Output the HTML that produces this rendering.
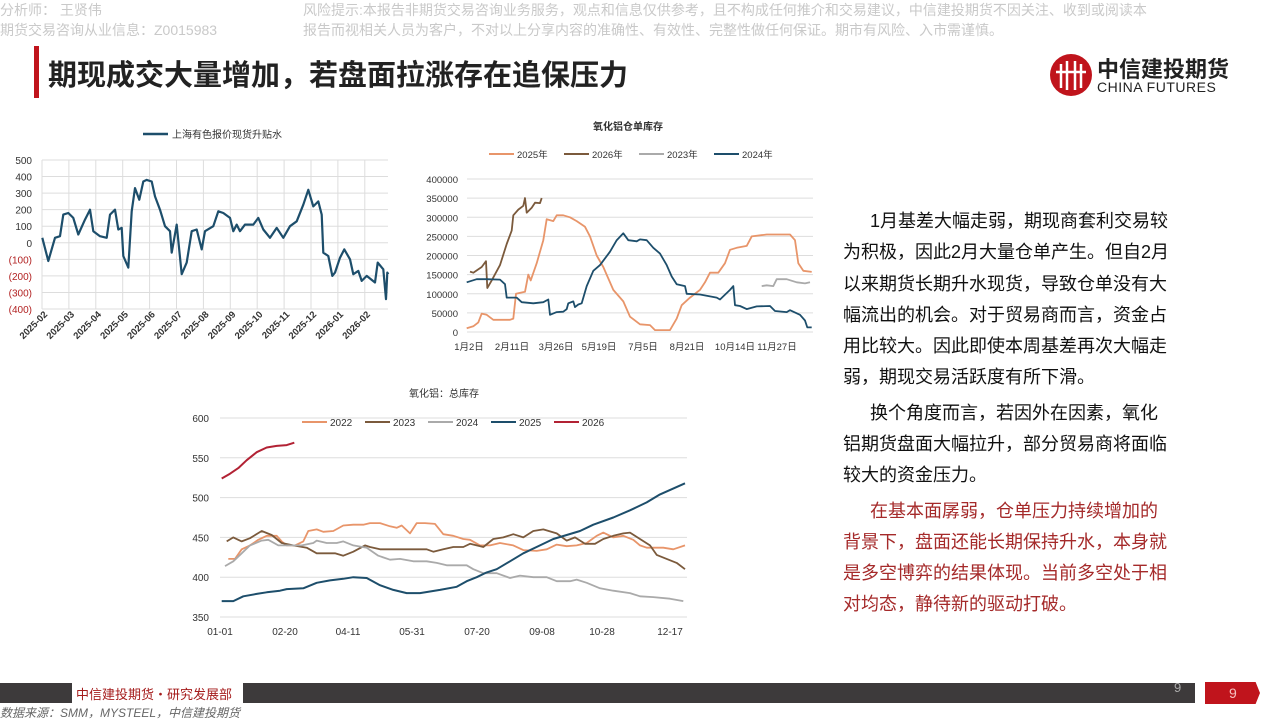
<!DOCTYPE html>
<html><head><meta charset="utf-8"><style>
body{margin:0;width:1280px;height:720px;position:relative;background:#fff;overflow:hidden;font-family:"Liberation Sans","Noto Sans CJK SC",sans-serif}
.a{position:absolute;white-space:nowrap}
.hd{color:#c9c9c9;font-size:14px}
.tx{font-size:18px;color:#111;left:843px}
.rd{color:#a52a2a}
</style></head><body>
<div class="a hd" style="left:0;top:0">分析师：&nbsp;王贤伟</div>
<div class="a hd" style="left:0;top:20px">期货交易咨询从业信息：Z0015983</div>
<div class="a hd" style="left:303px;top:0">风险提示:本报告非期货交易咨询业务服务，观点和信息仅供参考，且不构成任何推介和交易建议，中信建投期货不因关注、收到或阅读本</div>
<div class="a hd" style="left:303px;top:20px">报告而视相关人员为客户，不对以上分享内容的准确性、有效性、完整性做任何保证。期市有风险、入市需谨慎。</div>
<div class="a" style="left:34px;top:46px;width:5px;height:52px;background:#c0141c"></div>
<div class="a" style="left:48px;top:52px;font-size:29px;font-weight:bold;color:#222">期现成交大量增加，若盘面拉涨存在追保压力</div>
<svg class="a" style="left:1048px;top:52px" width="46" height="46"><circle cx="23" cy="23" r="21" fill="#c0141c"/><g stroke="#fff" stroke-width="2.5" fill="none"><line x1="13" y1="12" x2="13" y2="36"/><line x1="19" y1="9" x2="19" y2="38"/><line x1="27" y1="9" x2="27" y2="38"/><line x1="33" y1="12" x2="33" y2="36"/><line x1="8" y1="20" x2="38" y2="20"/></g></svg>
<div class="a" style="left:1097px;top:52px;font-size:22px;font-weight:bold;color:#222">中信建投期货</div>
<div class="a" style="left:1097px;top:79px;font-size:14px;color:#222;letter-spacing:0.5px">CHINA FUTURES</div>

<svg class="a" style="left:0;top:120px" width="400" height="240" id="c1" font-family="Liberation Sans,Noto Sans CJK SC,sans-serif"></svg>
<svg class="a" style="left:400px;top:110px" width="430" height="250" id="c2" font-family="Liberation Sans,Noto Sans CJK SC,sans-serif"></svg>
<svg class="a" style="left:180px;top:385px" width="530" height="260" id="c3" font-family="Liberation Sans,Noto Sans CJK SC,sans-serif"></svg>

<div class="a tx" style="top:207px">&emsp;&ensp;1月基差大幅走弱，期现商套利交易较</div>
<div class="a tx" style="top:238px">为积极，因此2月大量仓单产生。但自2月</div>
<div class="a tx" style="top:270px">以来期货长期升水现货，导致仓单没有大</div>
<div class="a tx" style="top:301px">幅流出的机会。对于贸易商而言，资金占</div>
<div class="a tx" style="top:332px">用比较大。因此即使本周基差再次大幅走</div>
<div class="a tx" style="top:363px">弱，期现交易活跃度有所下滑。</div>
<div class="a tx" style="top:399px">&emsp;&ensp;换个角度而言，若因外在因素，氧化</div>
<div class="a tx" style="top:430px">铝期货盘面大幅拉升，部分贸易商将面临</div>
<div class="a tx" style="top:461px">较大的资金压力。</div>
<div class="a tx rd" style="top:497px">&emsp;&ensp;在基本面孱弱，仓单压力持续增加的</div>
<div class="a tx rd" style="top:528px">背景下，盘面还能长期保持升水，本身就</div>
<div class="a tx rd" style="top:559px">是多空博弈的结果体现。当前多空处于相</div>
<div class="a tx rd" style="top:590px">对均态，静待新的驱动打破。</div>

<div class="a" style="left:0;top:683px;width:1195px;height:20px;background:#3d3a3b"></div>
<div class="a" style="left:72px;top:683px;width:171px;height:20px;background:#fff"></div>
<div class="a" style="left:76px;top:684px;font-size:13px;color:#a51c1c">中信建投期货・研究发展部</div>
<div class="a" style="left:1174px;top:680px;font-size:13px;color:#aaa">9</div>
<div class="a" style="left:1205px;top:682px;width:55px;height:22px;background:#c0141c;clip-path:polygon(0 0,92% 0,100% 50%,92% 100%,0 100%)"></div>
<div class="a" style="left:1229px;top:685px;font-size:14px;color:#f5c0c0">9</div>
<div class="a" style="left:0;top:704px;font-size:12px;font-style:italic;color:#666">数据来源：SMM，MYSTEEL，中信建投期货</div>

<script>
const NS="http://www.w3.org/2000/svg";
function el(svg,tag,at,txt){const e=document.createElementNS(NS,tag);for(const k in at)e.setAttribute(k,at[k]);if(txt!==undefined)e.textContent=txt;svg.appendChild(e);return e;}
function line(svg,pts,col,w){el(svg,'polyline',{points:pts.map(p=>p[0].toFixed(1)+','+p[1].toFixed(1)).join(' '),fill:'none',stroke:col,'stroke-width':w,'stroke-linejoin':'round'});}

// Chart 1
(function(){
const s=document.getElementById('c1');const L=42,R=388,T=40,B=189;
const y=v=>T+(500-v)*(B-T)/900;
el(s,'line',{x1:143,y1:14,x2:168,y2:14,stroke:'#1d4e6b','stroke-width':2.5});
el(s,'text',{x:172,y:18,'font-size':10,fill:'#333'},'上海有色报价现货升贴水');
for(let v=500;v>=-400;v-=100){el(s,'line',{x1:L,x2:R,y1:y(v),y2:y(v),stroke:'#ddd','stroke-width':1});
el(s,'text',{x:32,y:y(v)+4,'font-size':10,fill:v<0?'#b22222':'#333','text-anchor':'end'},v<0?'('+(-v)+')':v);}
const mx=[];for(let i=0;i<14;i++)mx.push(L+i*26.9);
const lb=['2025-02','2025-03','2025-04','2025-05','2025-06','2025-07','2025-08','2025-09','2025-10','2025-11','2025-12','2026-01','2026-02'];
mx.forEach(x=>{if(x<=R)el(s,'line',{x1:x,x2:x,y1:T,y2:B,stroke:'#ddd'})});
lb.forEach((t,i)=>{const x=mx[i]+6;el(s,'text',{x:x,y:B+6,'font-size':9.5,fill:'#333','font-weight':'bold','text-anchor':'end',transform:`rotate(-45 ${x} ${B+6})`},t)});
const d=[[127,30],[145,-110],[165,30],[180,40],[190,170],[205,180],[220,150],[235,50],[255,140],[270,200],[280,70],[300,40],[320,30],[330,170],[345,200],[355,80],[365,90],[370,-80],[385,-150],[395,190],[405,330],[418,260],[430,370],[440,380],[455,370],[465,280],[480,200],[495,100],[510,70],[515,-60],[530,110],[545,-190],[560,-120],[575,70],[590,80],[605,-40],[615,70],[640,100],[655,190],[670,180],[690,150],[700,70],[710,110],[720,70],[735,110],[760,110],[775,150],[790,80],[810,30],[830,90],[850,30],[870,100],[890,130],[910,230],[925,320],[940,220],[955,250],[965,170],[970,-60],[985,-80],[997,-200],[1005,-180],[1020,-90],[1033,-40],[1050,-100],[1060,-190],[1075,-170],[1085,-230],[1100,-200],[1125,-240],[1133,-120],[1150,-160],[1158,-340],[1162,-180],[1165,-190]];
line(s,d.map(p=>[p[0]/3,y(p[1])]),'#1d4e6b',2.2);
})();

// Chart 2
(function(){
const s=document.getElementById('c2');const L=67,R=413,T=69,B=222;
const y=v=>B-v*(B-T)/400;
el(s,'text',{x:228,y:20,'font-size':10,fill:'#333','text-anchor':'middle','font-weight':'bold'},'氧化铝仓单库存');
const lg=[['2025年','#e8956a',89],['2026年','#7b5a3c',164],['2023年','#aaa',239],['2024年','#1d4e6b',314]];
lg.forEach(g=>{el(s,'line',{x1:g[2],x2:g[2]+25,y1:44,y2:44,stroke:g[1],'stroke-width':2});el(s,'text',{x:g[2]+28,y:48,'font-size':9.5,fill:'#333'},g[0])});
for(let v=0;v<=400;v+=50){el(s,'line',{x1:L,x2:R,y1:y(v),y2:y(v),stroke:'#ddd'});el(s,'text',{x:58,y:y(v)+4,'font-size':9.5,fill:'#333','text-anchor':'end'},v*1000)}
const xl=[['1月2日',69],['2月11日',112],['3月26日',156],['5月19日',199],['7月5日',243],['8月21日',287],['10月14日',335],['11月27日',377]];
xl.forEach(a=>el(s,'text',{x:a[1],y:240,'font-size':9.5,fill:'#333','text-anchor':'middle'},a[0]));
const cv=d=>d.map(p=>[p[0]/3,y(p[1])]);
line(s,cv([[200,10],[220,15],[235,25],[245,48],[260,45],[280,32],[330,32],[340,35],[348,100],[375,105],[385,150],[392,135],[410,180],[430,240],[440,295],[460,290],[470,305],[490,305],[510,300],[530,290],[555,275],[570,250],[590,200],[610,170],[640,110],[670,80],[690,40],[720,20],[750,18],[765,5],[790,5],[810,5],[830,35],[845,70],[870,90],[900,110],[915,130],[930,155],[955,155],[975,180],[990,215],[1010,220],[1040,225],[1055,250],[1100,255],[1130,255],[1170,255],[1185,240],[1195,180],[1210,160],[1235,157]]),'#e8956a',1.8);
line(s,cv([[210,158],[220,155],[245,170],[258,185],[262,115],[275,135],[300,175],[320,230],[335,265],[340,305],[355,320],[370,330],[375,350],[380,312],[395,325],[405,338],[420,337],[425,350]]),'#7b5a3c',1.8);
line(s,cv([[1085,120],[1100,122],[1120,120],[1130,138],[1160,138],[1190,130],[1215,127],[1230,130]]),'#aaa',1.8);
line(s,cv([[200,130],[230,138],[260,138],[300,137],[315,125],[320,90],[350,90],[365,78],[400,75],[430,78],[445,85],[450,45],[470,52],[490,53],[500,60],[505,75],[520,80],[525,65],[535,72],[545,75],[560,120],[580,160],[600,175],[630,210],[650,240],[670,258],[685,240],[710,237],[720,242],[740,240],[760,220],[780,205],[800,175],[815,145],[830,125],[855,120],[860,100],[900,98],[950,90],[960,85],[990,110],[1000,120],[1005,70],[1020,68],[1040,60],[1070,67],[1110,68],[1125,55],[1160,52],[1170,57],[1200,45],[1215,30],[1222,12],[1235,12]]),'#1d4e6b',1.8);
})();

// Chart 3
(function(){
const s=document.getElementById('c3');const L=40,R=507,T=33,B=232;
const y=v=>B-(v-350)*(B-T)/250;
el(s,'text',{x:264,y:12,'font-size':10,fill:'#333','text-anchor':'middle'},'氧化铝：总库存');
for(let v=350;v<=600;v+=50){el(s,'line',{x1:L,x2:R,y1:y(v),y2:y(v),stroke:'#ddd'});el(s,'text',{x:29,y:y(v)+4,'font-size':10,fill:'#333','text-anchor':'end'},v)}
const xl=[['01-01',40],['02-20',105],['04-11',168],['05-31',232],['07-20',297],['09-08',362],['10-28',422],['12-17',490]];
xl.forEach(a=>el(s,'text',{x:a[1],y:250,'font-size':10,fill:'#333','text-anchor':'middle'},a[0]));
const lg=[['2022','#e8956a',122],['2023','#7b5a3c',185],['2024','#aaa',248],['2025','#1d4e6b',311],['2026','#b22234',374]];
lg.forEach(g=>{el(s,'line',{x1:g[2],x2:g[2]+25,y1:37,y2:37,stroke:g[1],'stroke-width':2});el(s,'text',{x:g[2]+28,y:41,'font-size':10,fill:'#333'},g[0])});
const cv=d=>d.map(p=>[p[0]/3,y(p[1])]);
line(s,cv([[145,423],[165,423],[185,435],[210,440],[235,447],[260,452],[290,452],[305,445],[320,440],[345,440],[370,445],[385,458],[410,460],[430,457],[460,458],[490,465],[520,466],[550,466],[570,468],[600,468],[630,464],[650,462],[665,465],[690,455],[710,468],[735,468],[765,467],[790,454],[820,452],[850,448],[870,447],[900,440],[930,440],[960,443],[1000,440],[1030,434],[1070,433],[1100,435],[1130,441],[1160,439],[1190,440],[1220,443],[1250,452],[1270,456],[1300,450],[1330,452],[1360,447],[1380,440],[1400,437],[1450,437],[1480,435],[1515,440]]),'#e8956a',1.8);
line(s,cv([[140,445],[160,450],[185,445],[210,449],[245,458],[275,453],[305,443],[340,440],[380,437],[410,430],[440,430],[465,430],[490,427],[520,432],[555,440],[570,438],[600,435],[650,435],[700,435],[740,435],[760,432],[790,435],[820,438],[850,438],[870,442],[890,440],[910,438],[940,448],[970,450],[1000,454],[1030,450],[1060,458],[1090,460],[1130,455],[1160,446],[1185,450],[1215,442],[1245,442],[1270,448],[1300,452],[1330,455],[1350,456],[1380,448],[1410,440],[1430,428],[1460,423],[1490,418],[1515,410]]),'#7b5a3c',1.8);
line(s,cv([[135,414],[160,420],[185,430],[210,440],[245,446],[265,447],[295,440],[330,440],[365,440],[400,443],[410,446],[440,443],[470,443],[490,445],[520,440],[560,437],[595,427],[630,422],[660,423],[700,420],[740,420],[770,418],[800,415],[860,415],[880,410],[910,405],[950,405],[990,399],[1020,402],[1060,400],[1100,400],[1130,395],[1170,395],[1190,397],[1220,393],[1260,386],[1300,383],[1350,380],[1380,376],[1420,375],[1470,373],[1510,370]]),'#aaa',1.8);
line(s,cv([[125,370],[160,370],[190,376],[230,379],[260,381],[300,383],[320,385],[370,386],[410,393],[450,396],[490,398],[520,400],[560,399],[600,390],[640,384],[680,380],[720,380],[780,384],[830,388],[860,395],[890,400],[920,406],[950,410],[990,420],[1030,430],[1080,440],[1120,448],[1160,453],[1200,458],[1240,466],[1300,475],[1350,484],[1400,494],[1440,504],[1515,518]]),'#1d4e6b',2);
line(s,cv([[125,524],[150,530],[175,537],[200,547],[230,557],[260,563],[290,565],[320,566],[343,569]]),'#b22234',2);
})();
</script>
</body></html>
